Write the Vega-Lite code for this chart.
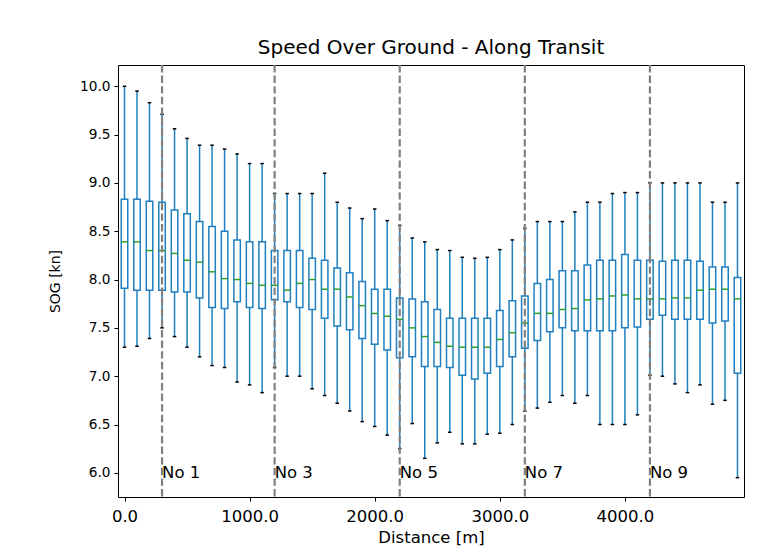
{
  "$schema": "https://vega.github.io/schema/vega-lite/v6.json",
  "autosize": "none",
  "padding": {"left": 118, "top": 65, "right": 38, "bottom": 58},
  "width": 626,
  "height": 432,
  "background": "white",
  "config": {
    "view": {"stroke": "black", "strokeWidth": 1},
    "font": "DejaVu Sans",
    "axis": {"grid": false, "domain": false, "tickColor": "black", "tickSize": 4, "tickWidth": 1, "labelColor": "black", "titleFontWeight": "normal", "titleColor": "black", "labelFont": "DejaVu Sans", "titleFont": "DejaVu Sans"},
    "title": {"fontSize": 20, "fontWeight": "normal", "font": "DejaVu Sans", "color": "black", "offset": 6}
  },
  "title": "Speed Over Ground - Along Transit",
  "datasets": {
    "boxes": [
      {"d": 0, "lo": 7.30, "q1": 7.91, "med": 8.39, "q3": 8.83, "hi": 10.00},
      {"d": 100, "lo": 7.31, "q1": 7.89, "med": 8.39, "q3": 8.83, "hi": 9.95},
      {"d": 200, "lo": 7.39, "q1": 7.89, "med": 8.30, "q3": 8.81, "hi": 9.83},
      {"d": 300, "lo": 7.50, "q1": 7.89, "med": 8.30, "q3": 8.80, "hi": 9.71},
      {"d": 400, "lo": 7.41, "q1": 7.87, "med": 8.27, "q3": 8.72, "hi": 9.56},
      {"d": 500, "lo": 7.30, "q1": 7.87, "med": 8.20, "q3": 8.68, "hi": 9.46},
      {"d": 600, "lo": 7.20, "q1": 7.81, "med": 8.18, "q3": 8.60, "hi": 9.39},
      {"d": 700, "lo": 7.11, "q1": 7.71, "med": 8.08, "q3": 8.55, "hi": 9.39},
      {"d": 800, "lo": 7.09, "q1": 7.70, "med": 8.01, "q3": 8.50, "hi": 9.35},
      {"d": 900, "lo": 6.94, "q1": 7.77, "med": 8.00, "q3": 8.41, "hi": 9.30},
      {"d": 1000, "lo": 6.91, "q1": 7.71, "med": 7.96, "q3": 8.39, "hi": 9.20},
      {"d": 1100, "lo": 6.83, "q1": 7.70, "med": 7.94, "q3": 8.39, "hi": 9.20},
      {"d": 1200, "lo": 7.09, "q1": 7.79, "med": 7.94, "q3": 8.30, "hi": 8.89},
      {"d": 1300, "lo": 7.00, "q1": 7.77, "med": 7.89, "q3": 8.30, "hi": 8.89},
      {"d": 1400, "lo": 7.00, "q1": 7.71, "med": 7.96, "q3": 8.30, "hi": 8.89},
      {"d": 1500, "lo": 6.87, "q1": 7.69, "med": 8.00, "q3": 8.22, "hi": 8.89},
      {"d": 1600, "lo": 6.80, "q1": 7.60, "med": 7.90, "q3": 8.20, "hi": 9.10},
      {"d": 1700, "lo": 6.72, "q1": 7.52, "med": 7.90, "q3": 8.12, "hi": 8.80},
      {"d": 1800, "lo": 6.64, "q1": 7.48, "med": 7.82, "q3": 8.07, "hi": 8.74},
      {"d": 1900, "lo": 6.53, "q1": 7.39, "med": 7.73, "q3": 7.98, "hi": 8.63},
      {"d": 2000, "lo": 6.48, "q1": 7.33, "med": 7.65, "q3": 7.90, "hi": 8.73},
      {"d": 2100, "lo": 6.39, "q1": 7.27, "med": 7.62, "q3": 7.90, "hi": 8.61},
      {"d": 2200, "lo": 6.25, "q1": 7.19, "med": 7.59, "q3": 7.81, "hi": 8.56},
      {"d": 2300, "lo": 6.51, "q1": 7.20, "med": 7.50, "q3": 7.80, "hi": 8.43},
      {"d": 2400, "lo": 6.15, "q1": 7.10, "med": 7.41, "q3": 7.77, "hi": 8.39},
      {"d": 2500, "lo": 6.31, "q1": 7.10, "med": 7.35, "q3": 7.69, "hi": 8.31},
      {"d": 2600, "lo": 6.42, "q1": 7.09, "med": 7.31, "q3": 7.60, "hi": 8.30},
      {"d": 2700, "lo": 6.30, "q1": 7.01, "med": 7.30, "q3": 7.60, "hi": 8.23},
      {"d": 2800, "lo": 6.30, "q1": 6.97, "med": 7.30, "q3": 7.60, "hi": 8.22},
      {"d": 2900, "lo": 6.40, "q1": 7.03, "med": 7.30, "q3": 7.60, "hi": 8.23},
      {"d": 3000, "lo": 6.41, "q1": 7.10, "med": 7.38, "q3": 7.68, "hi": 8.31},
      {"d": 3100, "lo": 6.50, "q1": 7.20, "med": 7.45, "q3": 7.78, "hi": 8.41},
      {"d": 3200, "lo": 6.64, "q1": 7.29, "med": 7.55, "q3": 7.83, "hi": 8.53},
      {"d": 3300, "lo": 6.67, "q1": 7.37, "med": 7.65, "q3": 7.96, "hi": 8.60},
      {"d": 3400, "lo": 6.73, "q1": 7.46, "med": 7.65, "q3": 8.00, "hi": 8.60},
      {"d": 3500, "lo": 6.80, "q1": 7.50, "med": 7.69, "q3": 8.09, "hi": 8.60},
      {"d": 3600, "lo": 6.72, "q1": 7.47, "med": 7.70, "q3": 8.09, "hi": 8.70},
      {"d": 3700, "lo": 6.80, "q1": 7.47, "med": 7.79, "q3": 8.15, "hi": 8.80},
      {"d": 3800, "lo": 6.50, "q1": 7.47, "med": 7.80, "q3": 8.20, "hi": 8.80},
      {"d": 3900, "lo": 6.50, "q1": 7.47, "med": 7.83, "q3": 8.20, "hi": 8.89},
      {"d": 4000, "lo": 6.50, "q1": 7.50, "med": 7.84, "q3": 8.26, "hi": 8.90},
      {"d": 4100, "lo": 6.60, "q1": 7.51, "med": 7.80, "q3": 8.20, "hi": 8.90},
      {"d": 4200, "lo": 7.01, "q1": 7.59, "med": 7.80, "q3": 8.20, "hi": 9.00},
      {"d": 4300, "lo": 7.00, "q1": 7.63, "med": 7.80, "q3": 8.19, "hi": 9.00},
      {"d": 4400, "lo": 6.92, "q1": 7.59, "med": 7.81, "q3": 8.20, "hi": 9.00},
      {"d": 4500, "lo": 6.83, "q1": 7.59, "med": 7.81, "q3": 8.20, "hi": 9.00},
      {"d": 4600, "lo": 6.91, "q1": 7.59, "med": 7.89, "q3": 8.19, "hi": 9.00},
      {"d": 4700, "lo": 6.71, "q1": 7.55, "med": 7.90, "q3": 8.13, "hi": 8.80},
      {"d": 4800, "lo": 6.75, "q1": 7.57, "med": 7.90, "q3": 8.13, "hi": 8.80},
      {"d": 4900, "lo": 5.95, "q1": 7.03, "med": 7.80, "q3": 8.02, "hi": 9.00}
    ],
    "marks": [
      {"d": 300, "label": "No 1", "y": 6.0},
      {"d": 1200, "label": "No 3", "y": 6.0},
      {"d": 2200, "label": "No 5", "y": 6.0},
      {"d": 3200, "label": "No 7", "y": 6.0},
      {"d": 4200, "label": "No 9", "y": 6.0}
    ]
  },
  "encoding": {
    "x": {"field": "d", "type": "quantitative", "title": "Distance [m]",
          "scale": {"domain": [-52, 4952], "nice": false, "zero": false, "padding": 0},
          "axis": {"values": [0, 1000, 2000, 3000, 4000], "format": ".1f", "labelFontSize": 16.5, "titleFontSize": 16.5, "labelPadding": 7, "titlePadding": 5}}
  },
  "layer": [
    {
      "data": {"name": "boxes"},
      "mark": {"type": "rule", "color": "#1f7fc0", "strokeWidth": 1.5},
      "encoding": {
        "y": {"field": "lo", "type": "quantitative", "title": "SOG [kn]",
              "scale": {"domain": [5.75, 10.22], "nice": false, "zero": false},
              "axis": {"values": [6.0, 6.5, 7.0, 7.5, 8.0, 8.5, 9.0, 9.5, 10.0], "format": ".1f", "labelFontSize": 13.7, "titleFontSize": 14, "labelPadding": 4, "titlePadding": 17}},
        "y2": {"field": "hi"}
      }
    },
    {
      "data": {"name": "boxes"},
      "mark": {"type": "bar", "fill": "white", "stroke": "#1f7fc0", "strokeWidth": 1.5, "size": 6.5},
      "encoding": {
        "y": {"field": "q1", "type": "quantitative"},
        "y2": {"field": "q3"}
      }
    },
    {
      "data": {"name": "boxes"},
      "mark": {"type": "tick", "orient": "horizontal", "color": "#2ca02c", "size": 6.5, "thickness": 1.5, "opacity": 1},
      "encoding": {"y": {"field": "med", "type": "quantitative"}}
    },
    {
      "data": {"name": "boxes"},
      "mark": {"type": "tick", "orient": "horizontal", "color": "black", "size": 3.5, "thickness": 1.5, "opacity": 1},
      "encoding": {"y": {"field": "lo", "type": "quantitative"}}
    },
    {
      "data": {"name": "boxes"},
      "mark": {"type": "tick", "orient": "horizontal", "color": "black", "size": 3.5, "thickness": 1.5, "opacity": 1},
      "encoding": {"y": {"field": "hi", "type": "quantitative"}}
    },
    {
      "data": {"name": "marks"},
      "mark": {"type": "rule", "color": "#808080", "strokeWidth": 2.2, "strokeDash": [7.4, 3.2]},
      "encoding": {}
    },
    {
      "data": {"name": "marks"},
      "mark": {"type": "text", "align": "left", "baseline": "middle", "fontSize": 16.5, "font": "DejaVu Sans", "color": "black", "dx": 0},
      "encoding": {
        "y": {"field": "y", "type": "quantitative"},
        "text": {"field": "label"}
      }
    }
  ]
}
